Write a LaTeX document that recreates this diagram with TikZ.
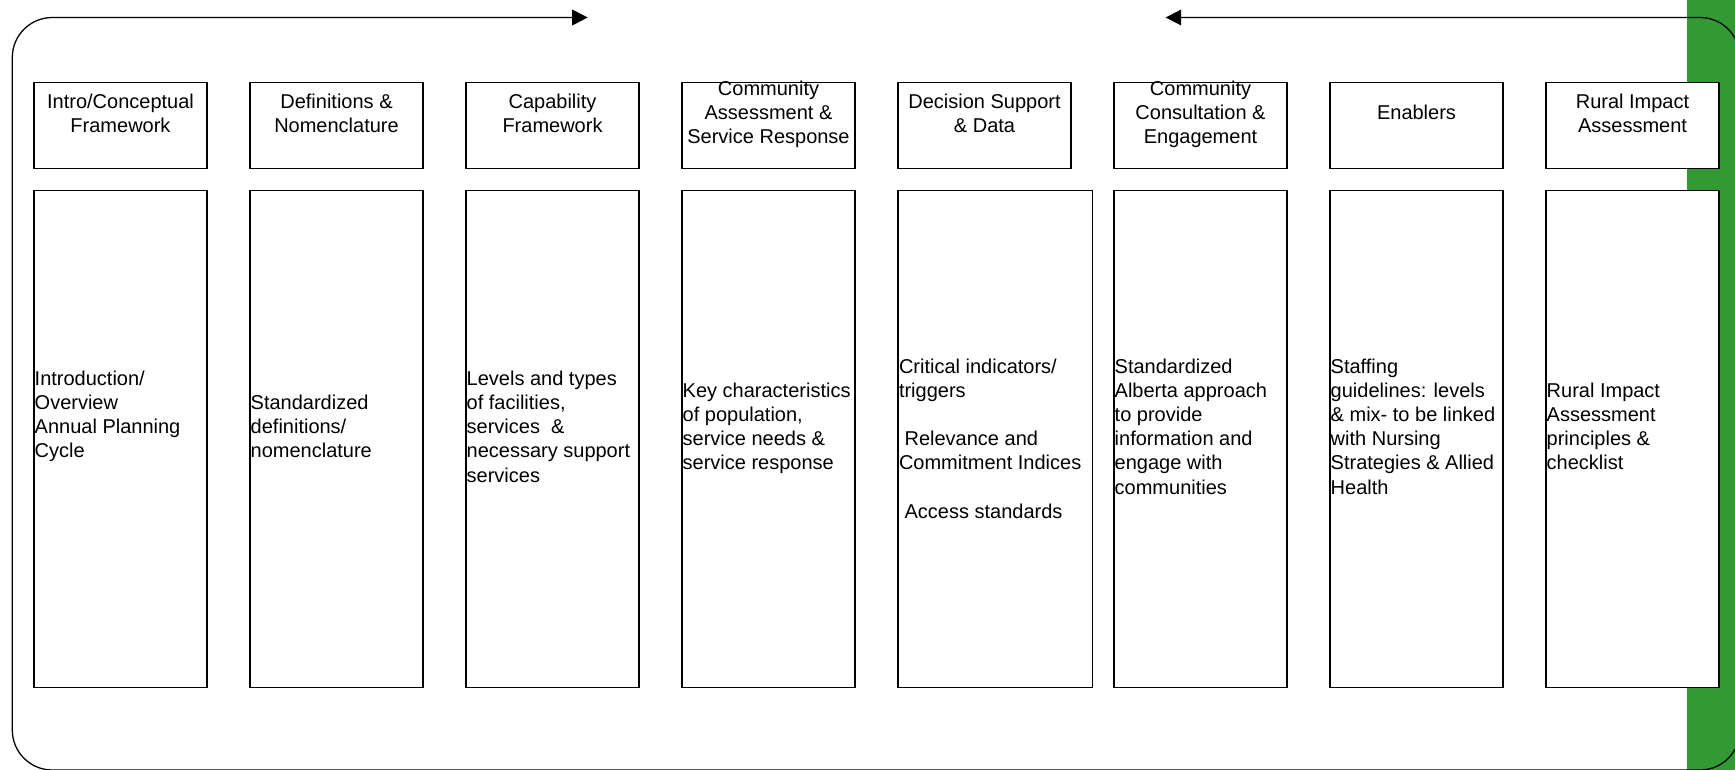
\documentclass[tikz,border=0pt]{standalone}
\usepackage{fontspec}
\setmainfont{Liberation Sans}
\usetikzlibrary{arrows.meta}
\definecolor{bargreen}{RGB}{51,153,51}
\begin{document}
\begin{tikzpicture}[x=1pt,y=-1pt,
  box/.style={draw=black, fill=white, line width=1.5pt, rectangle, inner sep=0pt, outer sep=0pt, anchor=north west},
  headbox/.style={box, minimum width=173pt, minimum height=86.2pt},
  bodybox/.style={box, minimum width=173pt, minimum height=496.6pt},
  head/.style={font=\fontsize{20}{24.2}\selectfont, align=center, inner sep=0pt},
  body/.style={font=\fontsize{20}{24.2}\selectfont, align=left, inner sep=0pt, anchor=west},
  frame/.style={line width=1.3pt, rounded corners=40pt, -{Triangle[length=15.5pt,width=15.7pt]}}]
\useasboundingbox (0,0) rectangle (1735,770);
\fill[bargreen] (1687,0) rectangle (1735,770);

% header boxes
\node[headbox] (h1) at (34,82.5) {};
\node[headbox] (h2) at (250,82.5) {};
\node[headbox] (h3) at (466,82.5) {};
\node[headbox] (h4) at (682,82.5) {};
\node[headbox] (h5) at (898,82.5) {};
\node[headbox] (h6) at (1114,82.5) {};
\node[headbox] (h7) at (1330,82.5) {};
\node[headbox] (h8) at (1546,82.5) {};

% body boxes
\node[bodybox] (b1) at (34,190.7) {};
\node[bodybox] (b2) at (250,190.7) {};
\node[bodybox] (b3) at (466,190.7) {};
\node[bodybox] (b4) at (682,190.7) {};
\node[bodybox, minimum width=194.4pt] (b5) at (898,190.7) {};
\node[bodybox] (b6) at (1114,190.7) {};
\node[bodybox] (b7) at (1330,190.7) {};
\node[bodybox] (b8) at (1546,190.7) {};

% header labels
\node[head] (h1t) at (120.5,113) {Intro/Conceptual\\Framework};
\node[head] (h2t) at (336.5,113) {Definitions \&\\Nomenclature};
\node[head] (h3t) at (552.5,113) {Capability\\Framework};
\node[head] (h4t) at (768.5,114.2) {Community\\Assessment \&\\Service Response};
\node[head] (h5t) at (984.5,113) {Decision Support\\\& Data};
\node[head] (h6t) at (1200.5,114.2) {Community\\Consultation \&\\Engagement};
\node[head] (h7t) at (1416.5,112) {Enablers};
\node[head] (h8t) at (1632.5,113) {Rural Impact\\Assessment};

% body labels
\node[body] (b1t) at (34.5,416.2) {Introduction/\\Overview\\Annual Planning\\Cycle};
\node[body] (b2t) at (250.5,426.5) {Standardized\\definitions/\\nomenclature};
\node[body] (b3t) at (466.5,426.5) {Levels and types\\of facilities,\\services\ \ \&\\necessary support\\services};
\node[body] (b4t) at (682.5,428.2) {Key characteristics\\of population,\\service needs \&\\service response};
\node[body] (b5t) at (898.8,438.5) {Critical indicators/\\triggers\\[24.2pt]\hspace*{5.6pt}Relevance and\\Commitment Indices\\[24.2pt]\hspace*{5.6pt}Access standards};
\node[body] (b6t) at (1114.5,426.5) {Standardized\\Alberta approach\\to provide\\information and\\engage with\\communities};
\node[body] (b7t) at (1330.5,426.5) {Staffing\\guidelines: levels\\\& mix- to be linked\\with Nursing\\Strategies \& Allied\\Health};
\node[body] (b8t) at (1546.5,426.5) {Rural Impact\\Assessment\\principles \&\\checklist};

% cycle frame with arrows
\coordinate (bm) at (870,770);
\coordinate (tl) at (587.7,17.5);
\coordinate (tr) at (1165.7,17.5);
\draw[frame] (bm) -| (12.3,17.5) -- (tl);
\draw[frame] (bm) -| (1740,17.5) -- (tr);
\end{tikzpicture}
\end{document}
